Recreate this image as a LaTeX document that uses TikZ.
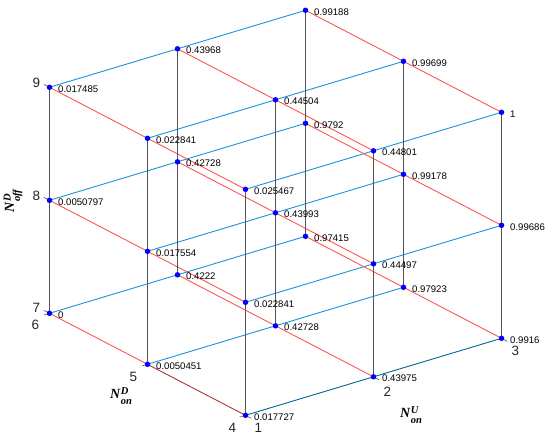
\documentclass[tikz,border=0pt]{standalone}
\usepackage{fontspec}
\setmainfont{Liberation Sans}
\newfontfamily\tnr{Liberation Serif}
\definecolor{lblue}{RGB}{25,150,215}
\definecolor{lred}{RGB}{255,85,85}
\definecolor{vgray}{RGB}{85,85,85}
\newcommand{\axN}[2]{{\tnr\bfseries\itshape\fontsize{14}{16}\selectfont N\kern0.6pt\raisebox{3.6pt}{\makebox[0pt][l]{\fontsize{10.5}{12}\selectfont #1}}\raisebox{-5.8pt}{\fontsize{10.5}{12}\selectfont #2}}}
\begin{document}
\begin{tikzpicture}[x=1pt,y=-1pt,
 xline/.style={lblue,line width=0.9pt},
 yline/.style={lred,line width=0.9pt},
 zline/.style={vgray,line width=0.9pt},
 axline/.style={black,line width=0.5pt,opacity=0.45},
 tickmark/.style={black!70,line width=0.5pt},
 dot/.style={circle,fill=blue,inner sep=0pt,minimum size=5.5pt},
 val/.style={anchor=west,inner sep=0pt,font=\fontsize{9.6}{11}\selectfont},
 ticklab/.style={inner sep=0pt,font=\fontsize{13.5}{15}\selectfont,text=black!85},
 axlab/.style={inner sep=0pt}]
\useasboundingbox (0,0) rectangle (550,441);
\foreach \i in {0,1,2}{\foreach \j in {0,1,2}{\foreach \k in {0,1,2}{
  \coordinate (c\i\j\k) at ({245.5+128*\i-98*\j},{415.3-38.5*\i-51*\j-113*\k});}}}
% lines along N_on^U
\foreach \j in {0,1,2}{\foreach \k in {0,1,2}{\draw[xline] (c0\j\k) -- (c2\j\k);}}
% lines along N_on^D
\foreach \i in {0,1,2}{\foreach \k in {0,1,2}{\draw[yline] (c\i0\k) -- (c\i2\k);}}
% vertical lines
\foreach \i in {0,1,2}{\foreach \j in {0,1,2}{\draw[zline] (c\i\j0) -- (c\i\j2);}}
% axis overlays
\draw[axline] (c000) -- (c200);
\draw[axline] (c000) -- (c010);
% tick marks
\foreach \k in {0,1,2}{\draw[tickmark] (c02\k) -- ++(-5.8,-3);}
\foreach \j in {0,1,2}{\draw[tickmark] (c0\j0) -- ++(-5.7,1.7);}
\foreach \i in {0,1,2}{\draw[tickmark] (c\i00) -- ++(5.8,3);}
% dots
\foreach \i in {0,1,2}{\foreach \j in {0,1,2}{\foreach \k in {0,1,2}{
  \node[dot] (p\i\j\k) at (c\i\j\k) {};}}}
% values
\foreach \n/\v in {000/0.017727,100/0.43975,200/0.9916,010/0.0050451,110/0.42728,210/0.97923,
  020/0,120/0.4222,220/0.97415,001/0.022841,101/0.44497,201/0.99686,011/0.017554,111/0.43993,
  211/0.99178,021/0.0050797,121/0.42728,221/0.9792,002/0.025467,102/0.44801,202/1,
  012/0.022841,112/0.44504,212/0.99699,022/0.017485,122/0.43968,222/0.99188}{
  \node[val] (v\n) at ([shift={(8.5,1.5)}]c\n) {\v};}
% tick labels
\node[ticklab] (t9) at ([shift={(-13,-4.5)}]c022) {9};
\node[ticklab] (t8) at ([shift={(-13,-4.5)}]c021) {8};
\node[ticklab] (t7) at ([shift={(-13,-5)}]c020) {7};
\node[ticklab] (t6) at ([shift={(-14,12)}]c020) {6};
\node[ticklab] (t5) at ([shift={(-14,12.5)}]c010) {5};
\node[ticklab] (t4) at ([shift={(-13,13)}]c000) {4};
\node[ticklab] (t1) at ([shift={(13,13)}]c000) {1};
\node[ticklab] (t2) at ([shift={(14,14.5)}]c100) {2};
\node[ticklab] (t3) at ([shift={(14,13)}]c200) {3};
% axis labels
\node[axlab] (xl) at (411,415) {\axN{U}{on}};
\node[axlab] (yl) at (121,396) {\axN{D}{on}};
\node[axlab,rotate=90] (zl) at (13,201) {\axN{D}{off}};
\end{tikzpicture}
\end{document}
